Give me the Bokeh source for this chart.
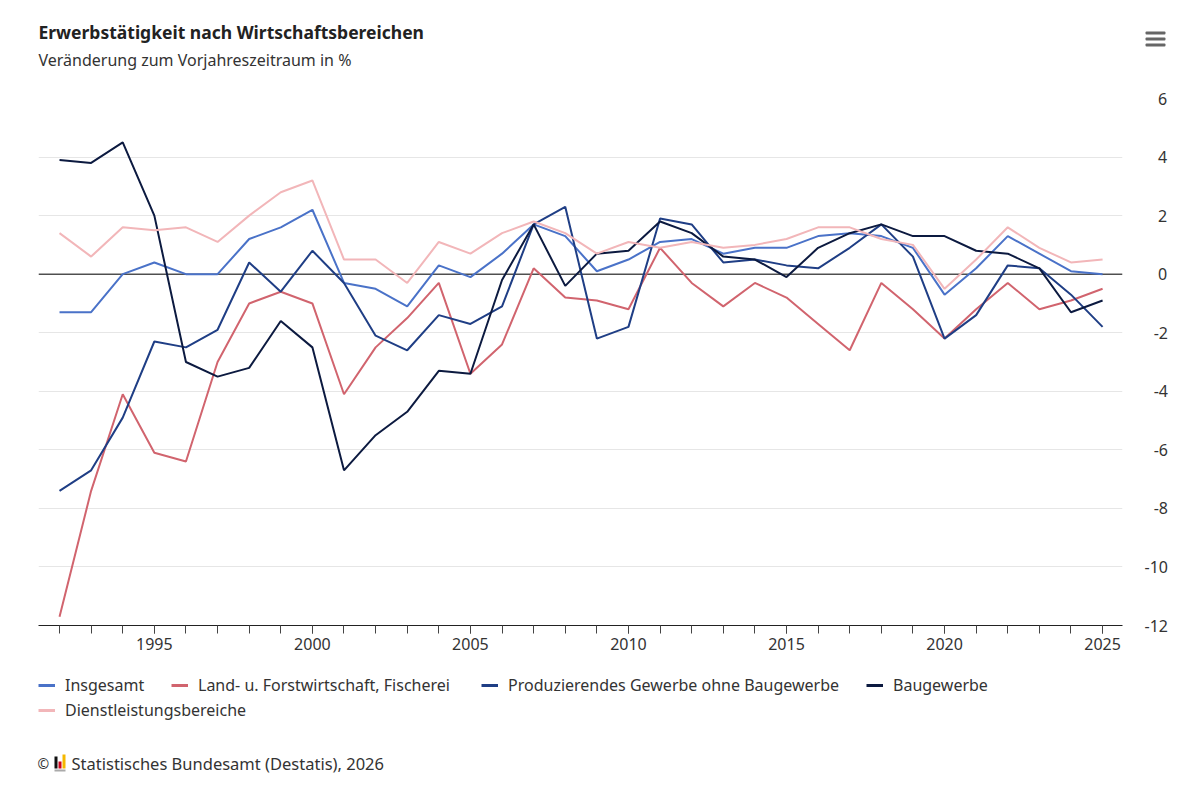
from bokeh.plotting import figure
from bokeh.layouts import column, row
from bokeh.models import (Range1d, SingleIntervalTicker, Span, Label, Legend,
                          LegendItem, BoxAnnotation, CustomJSTickFormatter)
from bokeh.embed import file_html
from bokeh.resources import INLINE

FONT = "Noto Sans"

years = list(range(1992, 2026))
insgesamt = [-1.3, -1.3, 0.0, 0.4, 0.0, 0.0, 1.2, 1.6, 2.2,
             -0.3, -0.5, -1.1, 0.3, -0.1, 0.7, 1.7, 1.3,
             0.1, 0.5, 1.1, 1.2, 0.7, 0.9, 0.9, 1.3,
             1.4, 1.3, 0.9, -0.7, 0.2, 1.3, 0.7, 0.1, 0.0]
land = [-11.7, -7.4, -4.1, -6.1, -6.4, -3.0, -1.0, -0.6, -1.0,
        -4.1, -2.5, -1.5, -0.3, -3.4, -2.4, 0.2, -0.8,
        -0.9, -1.2, 0.9, -0.3, -1.1, -0.3, -0.8, -1.7,
        -2.6, -0.3, -1.2, -2.2, -1.2, -0.3, -1.2, -0.9, -0.5]
produzierend = [-7.4, -6.7, -4.9, -2.3, -2.5, -1.9, 0.4, -0.6, 0.8,
                -0.3, -2.1, -2.6, -1.4, -1.7, -1.1, 1.7, 2.3,
                -2.2, -1.8, 1.9, 1.7, 0.4, 0.5, 0.3, 0.2,
                0.9, 1.7, 0.6, -2.2, -1.4, 0.3, 0.2, -0.7, -1.8]
bau = [3.9, 3.8, 4.5, 2.0, -3.0, -3.5, -3.2, -1.6, -2.5,
       -6.7, -5.5, -4.7, -3.3, -3.4, -0.2, 1.7, -0.4,
       0.7, 0.8, 1.8, 1.4, 0.6, 0.5, -0.1, 0.9,
       1.4, 1.7, 1.3, 1.3, 0.8, 0.7, 0.2, -1.3, -0.9]
dienst = [1.4, 0.6, 1.6, 1.5, 1.6, 1.1, 2.0, 2.8, 3.2,
          0.5, 0.5, -0.3, 1.1, 0.7, 1.4, 1.8, 1.4,
          0.7, 1.1, 0.9, 1.1, 0.9, 1.0, 1.2, 1.6,
          1.6, 1.2, 1.0, -0.5, 0.5, 1.6, 0.9, 0.4, 0.5]

series_names = ["Insgesamt", "Land- u. Forstwirtschaft, Fischerei",
                "Produzierendes Gewerbe ohne Baugewerbe", "Baugewerbe",
                "Dienstleistungsbereiche"]
series_values = [insgesamt, land, produzierend, bau, dienst]
series_colors = ["#4a72c8", "#d1646e", "#1f3e85", "#0c1a40", "#f2b6b9"]

title_text = "Erwerbstätigkeit nach Wirtschaftsbereichen"
subtitle_text = "Veränderung zum Vorjahreszeitraum in %"
source_text = "Statistisches Bundesamt (Destatis), 2026"


def blank_fig(h):
    f = figure(width=1200, height=h, output_backend="svg", toolbar_location=None,
               x_range=Range1d(0, 1), y_range=Range1d(0, 1),
               x_axis_location=None, y_axis_location=None,
               min_border_left=0, min_border_right=0, min_border_top=0,
               min_border_bottom=0)
    f.grid.visible = False
    f.outline_line_color = None
    f.border_fill_color = "white"
    f.background_fill_color = "white"
    return f


# ---------- header ----------
top = blank_fig(78)
top.add_layout(Label(x=38, y=47, x_units="screen", y_units="screen",
                     text=title_text, text_font=FONT, text_font_style="bold",
                     text_font_size="17.5px", text_color="#222222",
                     text_baseline="middle", text_align="left"))
top.add_layout(Label(x=38, y=19, x_units="screen", y_units="screen",
                     text=subtitle_text, text_font=FONT, text_font_size="16px",
                     text_color="#333333", text_baseline="middle",
                     text_align="left"))
for t in (47, 41, 35):
    top.add_layout(BoxAnnotation(left=1145, right=1165, top=t, bottom=t - 3,
                                 left_units="screen", right_units="screen",
                                 top_units="screen", bottom_units="screen",
                                 fill_color="#666666", fill_alpha=1,
                                 line_color=None, border_radius=1))

# ---------- main chart ----------
p = figure(width=1200, height=582, output_backend="svg", toolbar_location=None,
           x_range=Range1d(1991.335, 2025.63), y_range=Range1d(-12, 6),
           y_axis_location="right",
           min_border_left=38, min_border_right=78, min_border_top=20,
           min_border_bottom=35)
p.outline_line_color = None
p.border_fill_color = "white"
p.background_fill_color = "white"

xa = p.xaxis[0]
xa.ticker = SingleIntervalTicker(interval=5, num_minor_ticks=5)
xa.major_tick_out = 8
xa.major_tick_in = 0
xa.minor_tick_out = 8
xa.minor_tick_in = 0
xa.axis_line_color = "#222222"
xa.major_tick_line_color = "#444444"
xa.minor_tick_line_color = "#444444"
xa.major_label_text_font = FONT
xa.major_label_text_font_size = "16px"
xa.major_label_text_color = "#333333"
xa.major_label_standoff = 4
p.xgrid.visible = False

ya = p.yaxis[0]
ya.ticker = SingleIntervalTicker(interval=2)
ya.axis_line_color = None
ya.major_tick_line_color = None
ya.minor_tick_line_color = None
ya.major_tick_out = 0
ya.minor_tick_out = 0
ya.major_label_standoff = 22
ya.major_label_text_font = FONT
ya.major_label_text_font_size = "16px"
ya.major_label_text_color = "#333333"
ya.formatter = CustomJSTickFormatter(code="""
const neg = tick < 0;
const a = String(Math.abs(Math.round(tick)));
const pad = '\\u2007'.repeat(Math.max(0, 2 - a.length)) + (neg ? '' : '\\u2008');
return pad + (neg ? '-' : '') + a;
""")
p.ygrid.ticker = SingleIntervalTicker(interval=2)
p.ygrid.grid_line_color = "#e6e6e6"
p.ygrid.grid_line_width = 1

p.add_layout(Span(location=0, dimension="width", line_color="#000000",
                  line_width=1, level="underlay"))

for vals, col, name in zip(series_values, series_colors, series_names):
    p.line(years, vals, line_color=col, line_width=2, name=name)

# ---------- legend + source ----------
bot = blank_fig(130)
legend_pos = [(38, 94), (171, 94), (481, 94), (866, 94), (38, 69)]
for name, col, vals, (lx, ly) in zip(series_names, series_colors, series_values,
                                     legend_pos):
    # single-point proxy renderer (draws nothing) for the legend swatch
    r = bot.line(x=years[:1], y=vals[:1], line_color=col, line_width=3)
    lg = Legend(items=[LegendItem(label=name, renderers=[r])], location=(lx, ly),
                orientation="horizontal", padding=0, margin=0, spacing=0,
                border_line_color=None, background_fill_alpha=0,
                glyph_width=17, glyph_height=20, label_height=20,
                label_standoff=10, label_text_font=FONT,
                label_text_font_size="16px", label_text_color="#333333")
    bot.add_layout(lg, "center")

bot.add_layout(Label(x=37, y=27, x_units="screen", y_units="screen", text="©",
                     text_font=FONT, text_font_size="14px", text_color="#333333",
                     text_baseline="middle", text_align="left"))
bot.add_layout(Label(x=71, y=27, x_units="screen", y_units="screen",
                     text=source_text, text_font=FONT, text_font_size="16.5px",
                     text_color="#333333", text_baseline="middle",
                     text_align="left"))
logo = [(54, 57, 34, 22, "#111111"), (58, 61, 29, 22, "#d0021b"),
        (62, 65, 36, 22, "#f5b800"), (54, 65, 21, 19, "#aaaaaa")]
for l, rr, t, b, c in logo:
    bot.add_layout(BoxAnnotation(left=l, right=rr, top=t, bottom=b,
                                 left_units="screen", right_units="screen",
                                 top_units="screen", bottom_units="screen",
                                 fill_color=c, fill_alpha=1, line_color=None))

layout = column(row(top), row(p), row(bot), spacing=0)
open("out.html", "w").write(file_html(layout, INLINE))
